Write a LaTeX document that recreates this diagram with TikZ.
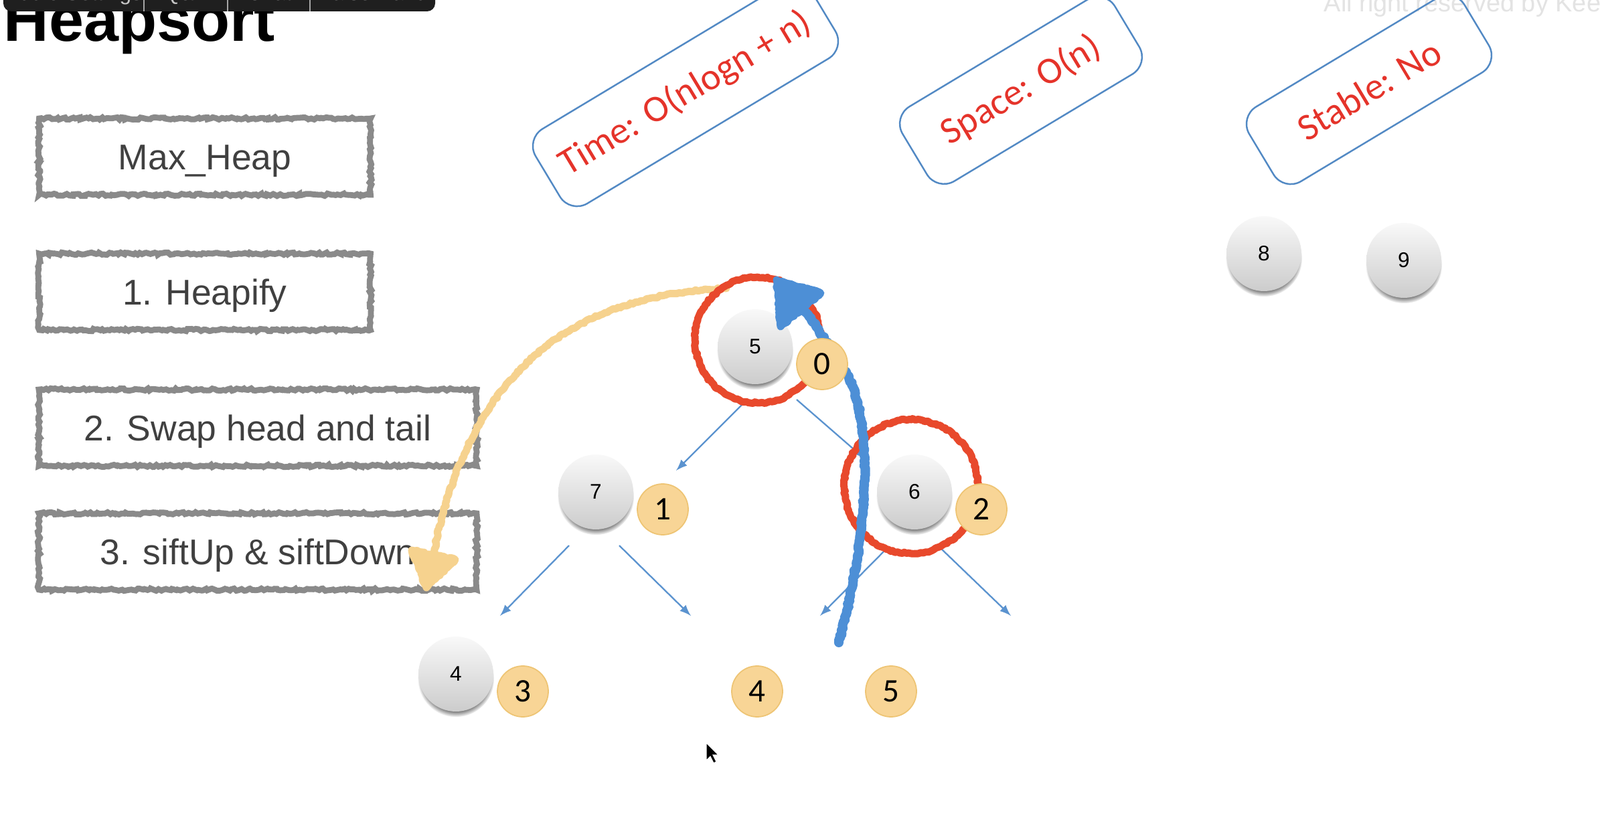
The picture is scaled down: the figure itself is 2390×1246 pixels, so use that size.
\documentclass[tikz,border=0pt]{standalone}
\usepackage{fontspec}
\setmainfont{Liberation Sans}
\newfontfamily\calib{Carlito}
\usetikzlibrary{positioning,decorations.pathmorphing,shadows}

\definecolor{boxgray}{HTML}{8A8A8A}
\definecolor{txtgray}{HTML}{404040}
\definecolor{propblue}{HTML}{5289C4}
\definecolor{propred}{HTML}{E5332A}
\definecolor{idxfill}{HTML}{F8D596}
\definecolor{idxline}{HTML}{EEC473}
\definecolor{edgeblue}{HTML}{5B93CF}
\definecolor{markred}{HTML}{E8492C}
\definecolor{markblue}{HTML}{4D8FD6}
\definecolor{markorange}{HTML}{F6D28E}
\definecolor{barblack}{HTML}{1F1F1F}

\tikzset{
  stepbox/.style={draw=boxgray, line width=2.5pt, minimum height=11.4mm, minimum width=49.5mm,
    decorate, decoration={random steps, segment length=1pt, amplitude=0.5pt},
    text height=10.9pt, text depth=0pt,
    text=txtgray, font=\fontsize{15.2}{18}\selectfont},
  propbox/.style={draw=propblue, line width=0.7pt, rounded corners=3mm, minimum height=13mm,
    text=propred, font=\calib\fontsize{16}{19}\selectfont, rotate=31},
  heapball/.style={circle, minimum size=11.2mm, inner sep=0pt, top color=gray!5, bottom color=gray!40,
    circular drop shadow={shadow xshift=0pt, shadow yshift=-0.7mm, shadow scale=1.02},
    font=\fontsize{9}{11}\selectfont},
  idx/.style={circle, minimum size=7.6mm, inner sep=0pt, fill=idxfill, draw=idxline, line width=0.5pt,
    font=\calib\fontsize{14}{16}\selectfont},
  link/.style={->, >=latex, draw=edgeblue, line width=0.65pt},
  crayon/.style={line width=3.1pt, line cap=round, line join=round, decorate,
    decoration={random steps, segment length=1pt, amplitude=0.4pt}},
}

\begin{document}
\begin{tikzpicture}[x=0.1mm, y=-0.1mm, node distance=10mm, on grid]
\clip (0,0) rectangle (2390,1246);
\fill[white] (0,0) rectangle (2390,1246);

% title and screen bar
\node[anchor=base west, inner sep=0pt, font=\bfseries\fontsize{26.6}{30}\selectfont] (title) at (5,62) {Heapsort};
\fill[barblack, rounded corners=1.2mm] (5,-40) rectangle (650,17);
\foreach \x in {215,340,463}
  \draw[gray!70, line width=0.4pt] (\x,-5) -- (\x,17);
\begin{scope}
  \clip (5,0) rectangle (650,17);
  \foreach \x/\t in {110/Audio Settings, 278/Q\&A, 402/Chat, 556/Raise Hand}
    \node[anchor=base, text=gray!45, font=\fontsize{9}{11}\selectfont] at (\x,1) {\t};
\end{scope}
\node[anchor=base west, inner sep=0pt, text=gray!22, font=\fontsize{10.8}{13}\selectfont] (wm) at (1977,18) {All right reserved by Keen};

% steps
\node[stepbox] (mh) at (306,234) {Max\_Heap};
\node[stepbox, below=20.2mm of mh] (s1) {1. Heapify};
\node[stepbox, minimum width=65.4mm, below right=20.3mm and 7.9mm of s1] (s2) {2. Swap head and tail};
\node[stepbox, minimum width=65.4mm, below=18.5mm of s2] (s3) {3. siftUp \& siftDown};

% properties
\node[propbox, minimum width=48mm] (tm) at (1024,140) {Time: O(nlogn + n)};
\node[propbox, minimum width=37mm] (sp) at (1525,135) {Space: O(n)};
\node[propbox, minimum width=37.5mm] (st) at (2045,134) {Stable: No};

% tree links
\coordinate (a5l) at (1114,599); \coordinate (b5l) at (1010,703);
\coordinate (a5r) at (1190,597); \coordinate (b5r) at (1290,684);
\coordinate (a7l) at (850,815);  \coordinate (b7l) at (747,920);
\coordinate (a7r) at (925,815);  \coordinate (b7r) at (1032,920);
\coordinate (a6l) at (1326,818); \coordinate (b6l) at (1225,920);
\coordinate (a6r) at (1404,818); \coordinate (b6r) at (1510,920);
\foreach \s in {5l,5r,7l,7r,6l,6r}
  \draw[link] (a\s) -- (b\s);

% swap head and tail
\coordinate (os) at (1085,431);
\coordinate (oe) at (645,842);
\draw[crayon, markorange] (os) .. controls (880,440) and (700,530) .. (oe);
\filldraw[crayon, markorange] (615,822) -- (680,836) -- (637,878) -- cycle;

% heap
\node[heapball] (n5) at (1128,518) {5};
\node[heapball, below left=21.7mm and 23.8mm of n5] (n7) {7};
\node[heapball, below right=21.7mm and 23.8mm of n5] (n6) {6};
\node[heapball, below left=27.2mm and 20.9mm of n7] (n4) {4};
\node[heapball] (n8) at (1888,379) {8};
\node[heapball, below right=1mm and 20.9mm of n8] (n9) {9};

\draw[crayon, markred] ([shift={(4,-10)}]n5.center) circle[radius=9.4mm];
\draw[crayon, markred] ([shift={(-5,-8)}]n6.center) circle[radius=10mm];

% sift up
\coordinate (bs) at (1253,960);
\coordinate (be) at (1192,452);
\draw[crayon, markblue, line width=4pt] (bs) .. controls (1300,790) and (1305,620) .. (1262,555)
  .. controls (1240,520) and (1215,478) .. (be);
\filldraw[crayon, markblue] (1160,418) -- (1166,488) -- (1226,438) -- cycle;

% indices
\node[idx, below right=2.6mm and 10mm of n5] (i0) {0};
\node[idx, below right=2.6mm and 10mm of n7] (i1) {1};
\node[idx, below right=2.6mm and 10mm of n6] (i2) {2};
\node[idx, below right=2.6mm and 10mm of n4] (i3) {3};
\node[idx, right=35mm of i3] (i4) {4};
\node[idx, right=20mm of i4] (i5) {5};

% pointer
\filldraw[black, draw=white, line width=0.3pt] (1055,1110) -- (1055,1136) -- (1061,1130) -- (1066,1140)
  -- (1070,1138) -- (1065,1128) -- (1073,1128) -- cycle;
\end{tikzpicture}
\end{document}
